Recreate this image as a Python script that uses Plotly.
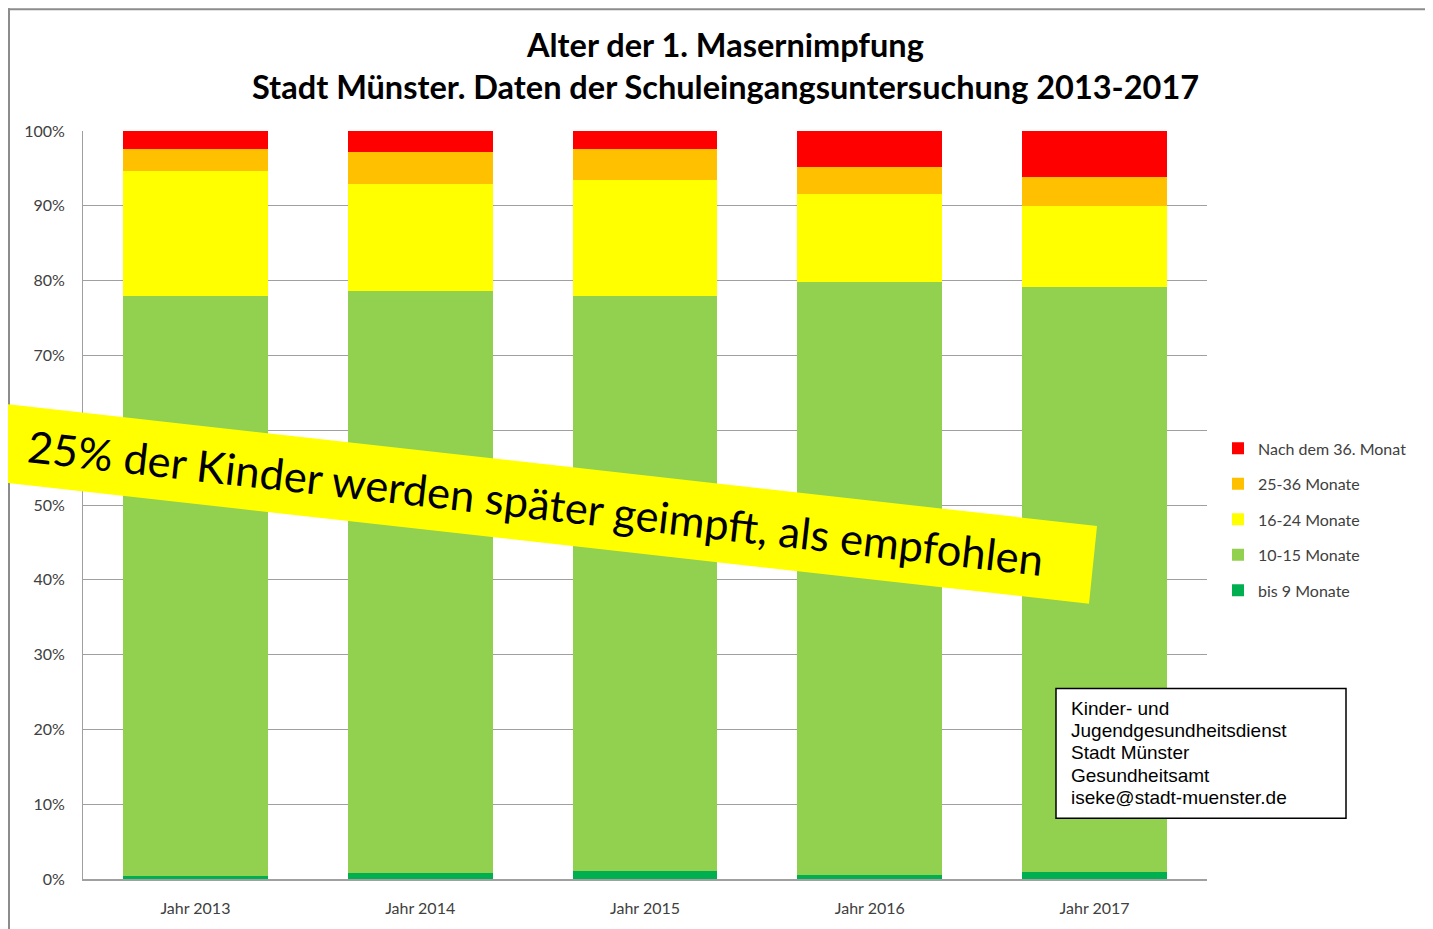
import plotly.graph_objects as go

# ---- data ----
years = ["Jahr 2013", "Jahr 2014", "Jahr 2015", "Jahr 2016", "Jahr 2017"]
bis_9 = [0.45, 0.85, 1.1, 0.55, 1.0]
m_10_15 = [77.55, 77.75, 76.9, 79.25, 78.2]
m_16_24 = [16.6, 14.3, 15.5, 11.8, 10.8]
m_25_36 = [3.0, 4.3, 4.1, 3.6, 3.9]
nach_36 = [2.4, 2.8, 2.4, 4.8, 6.1]

series_names = ["bis 9 Monate", "10-15 Monate", "16-24 Monate", "25-36 Monate", "Nach dem 36. Monat"]
series_values = [bis_9, m_10_15, m_16_24, m_25_36, nach_36]
series_colors = ["#00B050", "#92D050", "#FFFF00", "#FFC000", "#FF0000"]

y_ticks = list(range(0, 101, 10))
y_tick_text = [f"{v}%" for v in y_ticks]

title_lines = ["Alter der 1. Masernimpfung",
               "Stadt Münster. Daten der Schuleingangsuntersuchung 2013-2017"]
banner_text = "25% der Kinder werden später geimpft, als empfohlen"
info_lines = ["Kinder- und", "Jugendgesundheitsdienst", "Stadt Münster",
              "Gesundheitsamt", "iseke@stadt-muenster.de"]

# ---- layout geometry (reference pixels; page has 8px body margin) ----
OFF = 8
VW, VH = 1433, 929
W, H = VW - OFF, VH - OFF
PL, PR, PT, PB = 83, 1207, 131, 881


def px(x):
    return (x - PL) / (PR - PL)


def py(y):
    return (PB - y) / (PB - PT)


fig = go.Figure()
for i, (name, vals, col) in enumerate(zip(series_names, series_values, series_colors)):
    fig.add_trace(go.Bar(x=years, y=vals, name=name, marker_color=col,
                         marker_line_width=0, legendgroup=name,
                         legendrank=100 - i))

shapes = []
# page frame lines
shapes.append(dict(type="line", xref="paper", yref="paper", x0=px(8), x1=px(1440),
                   y0=py(9), y1=py(9), line=dict(color="#8C8C8C", width=2)))
shapes.append(dict(type="line", xref="paper", yref="paper", x0=px(9), x1=px(9),
                   y0=py(8), y1=py(935), line=dict(color="#8C8C8C", width=2)))

# yellow banner
slope = (527 - 404) / 1097
pts = [(-30, 404 - 30 * slope), (1097, 527), (1089, 605), (-30, 483 - 30 * slope)]
path = "M " + " L ".join(f"{px(a):.5f},{py(b):.5f}" for a, b in pts) + " Z"
shapes.append(dict(type="path", xref="paper", yref="paper", path=path,
                   fillcolor="#FFFF00", line=dict(width=0), layer="above"))

# info box
shapes.append(dict(type="rect", xref="paper", yref="paper", x0=px(1056), x1=px(1346),
                   y0=py(820), y1=py(690), fillcolor="white",
                   line=dict(color="black", width=1.5), layer="above"))

annotations = []
annotations.append(dict(text=f"<b>{title_lines[0]}</b>", x=px(725), y=py(44), xref="paper",
                        yref="paper", showarrow=False, xanchor="center", yanchor="middle",
                        font=dict(family="Lato", size=32.5, color="black")))
annotations.append(dict(text=f"<b>{title_lines[1]}</b>", x=px(725), y=py(86), xref="paper",
                        yref="paper", showarrow=False, xanchor="center", yanchor="middle",
                        font=dict(family="Lato", size=32.5, color="black")))
annotations.append(dict(text=banner_text, x=px(535), y=py(503), xref="paper", yref="paper",
                        showarrow=False, xanchor="center", yanchor="middle", textangle=6.4,
                        font=dict(family="Lato", size=43.5, color="black")))
for i, line in enumerate(info_lines):
    annotations.append(dict(text=line, x=px(1069), y=py(710 + i * 22.3), xref="paper",
                            yref="paper", showarrow=False, xanchor="left", yanchor="middle",
                            font=dict(family="Liberation Sans, Arial", size=19, color="black")))

fig.update_layout(
    width=W, height=H,
    margin=dict(l=PL - OFF, r=VW - PR, t=PT - OFF, b=VH - PB, pad=0),
    barmode="stack", bargap=0.356,
    plot_bgcolor="white", paper_bgcolor="white",
    showlegend=True,
    legend=dict(x=px(1218), xanchor="left", y=py(520.5), yanchor="middle",
                traceorder="grouped", tracegroupgap=11.7,
                font=dict(family="Lato", size=16, color="#404040"),
                bgcolor="rgba(0,0,0,0)", itemclick=False),
    shapes=shapes, annotations=annotations,
    xaxis=dict(showgrid=False, showline=True, linecolor="#A0A0A0", linewidth=1.5,
               ticks="", tickfont=dict(family="Lato", size=16, color="#404040"),
               ticklabelstandoff=14),
    yaxis=dict(range=[0, 100], tickvals=y_ticks, ticktext=y_tick_text,
               showgrid=True, gridcolor="#A0A0A0", gridwidth=1,
               showline=True, linecolor="#A0A0A0", linewidth=1, zeroline=False,
               ticks="", tickfont=dict(family="Lato", size=16, color="#404040"),
               ticklabelstandoff=14),
)

fig.write_html("out.html")
